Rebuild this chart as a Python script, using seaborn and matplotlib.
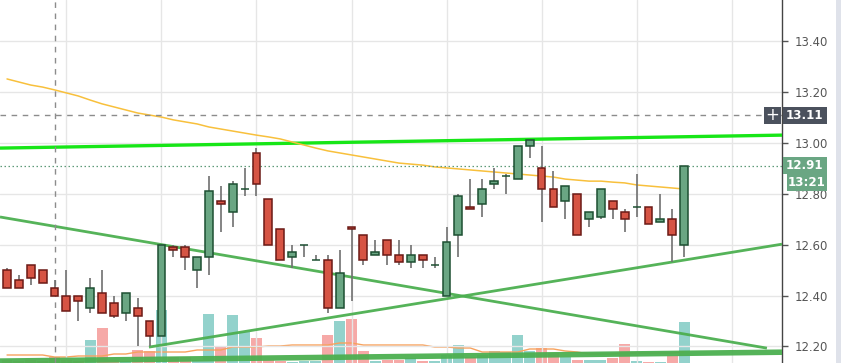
import matplotlib
matplotlib.use("Agg")
import matplotlib.pyplot as plt
import matplotlib.transforms as mtransforms
from matplotlib.patches import Rectangle
import numpy as np
import seaborn as sns

# ---------------- data ----------------
opens  = [12.50,12.46,12.52,12.50,12.43,12.40,12.40,12.35,12.41,12.37,12.33,12.35,12.30,12.24,12.59,12.59,12.50,12.55,12.77,12.73,
          12.82,12.96,12.78,12.66,12.55,12.60,12.54,12.54,12.35,12.67,12.64,12.56,12.62,12.56,12.53,12.56,12.52,12.40,12.64,12.75,
          12.76,12.84,12.87,12.86,12.99,12.90,12.82,12.77,12.80,12.70,12.71,12.77,12.73,12.75,12.75,12.69,12.70,12.60]
highs  = [12.51,12.48,12.52,12.50,12.46,12.50,12.40,12.47,12.50,12.40,12.41,12.39,12.30,12.60,12.60,12.60,12.55,12.87,12.83,12.85,
          12.90,12.98,12.78,12.66,12.60,12.60,12.56,12.56,12.58,12.67,12.64,12.62,12.62,12.62,12.60,12.56,12.55,12.67,12.80,12.86,
          12.86,12.90,12.88,12.99,13.01,12.99,12.89,12.83,12.80,12.73,12.82,12.77,12.74,12.88,12.75,12.80,12.74,12.91]
lows   = [12.43,12.43,12.44,12.45,12.40,12.34,12.30,12.33,12.33,12.31,12.30,12.20,12.20,12.24,12.55,12.50,12.43,12.48,12.65,12.67,
          12.79,12.79,12.60,12.54,12.51,12.55,12.54,12.33,12.35,12.38,12.52,12.56,12.52,12.52,12.51,12.51,12.51,12.40,12.55,12.74,
          12.71,12.82,12.80,12.86,12.94,12.69,12.75,12.70,12.64,12.67,12.70,12.70,12.65,12.71,12.68,12.69,12.53,12.55]
closes = [12.43,12.43,12.47,12.45,12.40,12.34,12.38,12.43,12.33,12.32,12.41,12.32,12.24,12.60,12.58,12.55,12.55,12.81,12.76,12.84,
          12.82,12.84,12.60,12.54,12.57,12.60,12.54,12.35,12.49,12.66,12.54,12.57,12.56,12.53,12.56,12.54,12.52,12.61,12.79,12.74,
          12.82,12.85,12.87,12.99,13.01,12.82,12.75,12.83,12.64,12.73,12.82,12.74,12.70,12.75,12.68,12.70,12.64,12.91]
price_ma = [13.252,13.240,13.228,13.220,13.209,13.197,13.185,13.169,13.154,13.142,13.130,13.118,13.110,13.102,13.091,13.083,
            13.075,13.063,13.055,13.047,13.039,13.031,13.024,13.016,13.004,12.992,12.980,12.969,12.961,12.953,12.945,12.937,
            12.929,12.921,12.917,12.913,12.906,12.902,12.898,12.894,12.890,12.886,12.882,12.878,12.874,12.870,12.866,12.858,
            12.854,12.850,12.850,12.846,12.843,12.835,12.831,12.827,12.823,12.819]
volume = [3,2,3,2,6,3,2,23,35,3,2,13,12,53,6,6,3,49,17,48,31,25,3,2,1,2,2,28,42,44,12,2,3,3,5,2,2,8,18,6,
          8,12,11,28,12,15,10,6,3,3,3,5,19,2,1,1,7,41]
volume = [v * 1000 for v in volume]
volume_ma = [8,8,8,8,6,6,7,7,7,9,9,11,11,11,11,11,13,13,13,16,16,16,17,17,18,18,18,18,20,20,18,18,18,18,18,18,16,16,15,15,
             11,11,11,11,14,14,14,12,11,9,9,9,10,10,10,10,10,11]
volume_ma = [v * 1000 for v in volume_ma]

# user-drawn trend lines: (start index, start price, end index, end price)
trend_bright = [-0.59, 12.980, 65.24, 13.031]
trend_desc   = [-0.59, 12.709, 63.97, 12.193]
trend_asc    = [11.95, 12.197, 65.24, 12.602]
trend_base   = [-0.59, 12.142, 65.24, 12.177]

crosshair_index = 4
crosshair_price = 13.11
last_price = 12.91
price_ticks = [12.20, 12.40, 12.60, 12.80, 13.00, 13.20, 13.40]
grid_x = [5, 13, 21, 29, 37, 45, 53, 61]
timer_text = "13:21"

# ---------------- styling ----------------
sns.set_theme(style="white")
plt.rcParams['font.family'] = ['DejaVu Sans']

W, H = 841, 363
fig = plt.figure(figsize=(W / 100, H / 100), dpi=100)
fig.patch.set_facecolor("white")
axw = 782 / W
ax = fig.add_axes([0, 0, axw, 1])
axv = ax.twinx()
axv.set_position([0, 0, axw, 1])
ax.set_zorder(2)
ax.patch.set_visible(False)
axv.set_zorder(1)

xs = np.arange(len(opens))
XMIN, XMAX = -0.59, 65.24
YMIN, YMAX = 12.1345, 13.5626

# volume
up = [c >= o for o, c in zip(opens, closes)]
vcolors = ["#93d2cc" if u else "#f6a9a7" for u in up]
axv.bar(xs, volume, width=0.92, color=vcolors, linewidth=0, zorder=1)
sns.lineplot(x=xs, y=volume_ma, ax=axv, color="#f7a25e", linewidth=1.0, zorder=2)
axv.set_ylim(0, 363000)
axv.set_xlim(XMIN, XMAX)
axv.axis("off")

# grid
for g in grid_x:
    ax.axvline(g, color="#e6e6e6", lw=1, zorder=0)
for t in price_ticks:
    ax.axhline(t, color="#e6e6e6", lw=1, zorder=0)

# trend lines
def tl(seg, color, lw, alpha=1.0):
    ax.plot([seg[0], seg[2]], [seg[1], seg[3]], color=color, lw=lw, alpha=alpha,
            solid_capstyle="butt", zorder=3)

tl(trend_base, "#4caf50", 4.0, 0.95)
tl(trend_desc, "#4caf50", 2.0, 0.95)
tl(trend_asc, "#4caf50", 2.0, 0.95)
tl(trend_bright, "#17e617", 2.4)

# price MA
sns.lineplot(x=xs, y=price_ma, ax=ax, color="#f8c03c", linewidth=1.1, zorder=4)

# crosshair and price lines
ax.axvline(crosshair_index, color="#8c8c8c", lw=1, ls=(0, (4, 4)), zorder=5)
ax.axhline(crosshair_price, color="#8c8c8c", lw=1, ls=(0, (4, 4)), zorder=5)
ax.axhline(last_price, color="#5e9a78", lw=0.9, ls=(0, (1.2, 2)), zorder=5)

# candles
for i in xs:
    o, h, l, c = opens[i], highs[i], lows[i], closes[i]
    if up[i]:
        fc, ec = "#6aa683", "#1d4f32"
    else:
        fc, ec = "#d65444", "#6b1a16"
    ax.vlines(i, l, h, color="#707070", lw=1.2, zorder=6)
    ax.bar(i, max(abs(c - o), 0.0001), bottom=min(o, c), width=0.66,
           color=fc, edgecolor=ec, linewidth=1.1, zorder=7)

ax.set_xlim(XMIN, XMAX)
ax.set_ylim(YMIN, YMAX)
ax.set_xlabel("")
ax.set_ylabel("")
axv.set_ylabel("")
ax.set_xticks([])
ax.yaxis.tick_right()
ax.set_yticks(price_ticks)
ax.set_yticklabels([f"{t:.2f}" for t in price_ticks])
ax.tick_params(axis="y", right=True, direction="out", length=4, width=1,
               color="#555555", labelcolor="#555555", labelsize=8.4, pad=5)
for s in ["left", "top", "bottom"]:
    ax.spines[s].set_visible(False)
ax.spines["right"].set_visible(True)
ax.spines["right"].set_color("#444444")
ax.spines["right"].set_linewidth(1)

# right-side labels
bt = mtransforms.blended_transform_factory(fig.transFigure, ax.transData)
bh = 17 / 254.2
def box(x0, x1, yc, color, text, fs=8.6):
    fig.add_artist(Rectangle((x0 / W, yc - bh / 2), (x1 - x0) / W, bh, transform=bt,
                             facecolor=color, edgecolor="none", zorder=10))
    if text:
        fig.text((x0 + x1) / 2 / W, yc, text, transform=bt, ha="center", va="center",
                 color="white", fontsize=fs, fontweight="bold", zorder=11)

box(764, 781, crosshair_price, "#4b515d", "")
fig.text(772.5 / W, crosshair_price, "+", transform=bt, ha="center", va="center",
         color="white", fontsize=12, zorder=11)
box(782.5, 827, crosshair_price, "#4b515d", f"{crosshair_price:.2f}")
box(782.5, 827, last_price, "#6aa683", f"{last_price:.2f}")
box(787, 827, last_price - bh, "#6aa683", timer_text)

# right border strip
fig.add_artist(Rectangle((836 / W, 0), 5 / W, 1, transform=fig.transFigure,
                         facecolor="#dfe2ea", edgecolor="none", zorder=9))

fig.savefig("out.png", dpi=100, facecolor="white")
